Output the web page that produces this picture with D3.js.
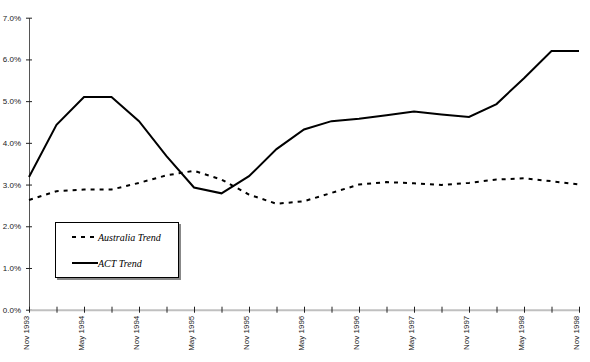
<!DOCTYPE html>
<html>
<head>
<meta charset="utf-8">
<script src="https://cdn.jsdelivr.net/npm/d3@7"></script>
<style>
body{margin:0;background:#fff;}
svg{display:block;}
</style>
</head>
<body>
<script>
var svg_width=590;
var svg_height=362;

// quarterly periods, Nov 1993 .. Nov 1998
var quarters=["Nov 1993","Feb 1994","May 1994","Aug 1994","Nov 1994","Feb 1995","May 1995","Aug 1995",
  "Nov 1995","Feb 1996","May 1996","Aug 1996","Nov 1996","Feb 1997","May 1997","Aug 1997",
  "Nov 1997","Feb 1998","May 1998","Aug 1998","Nov 1998"];
var act_trend=[3.18,4.43,5.1,5.1,4.52,3.68,2.93,2.79,3.2,3.85,4.32,4.52,4.58,4.66,4.75,4.68,4.62,4.93,5.55,6.2,6.2];
var australia_trend=[2.63,2.84,2.88,2.88,3.04,3.22,3.33,3.12,2.76,2.54,2.6,2.8,3.0,3.06,3.03,2.99,3.04,3.12,3.15,3.08,3.0];
var y_ticks=[0,1,2,3,4,5,6,7];
var legend_names=["Australia Trend","ACT Trend"];

var x0=29, x1=579, y0=309.7, y1=17.7;

var svg=d3.select("body")
  .append("svg")
  .attr("width",svg_width)
  .attr("height",svg_height);

var x=d3.scalePoint()
  .domain(quarters)
  .range([x0,x1]);

var y=d3.scaleLinear()
  .domain([0,7])
  .range([y0,y1]);

// y axis
var yAxis=d3.axisLeft(y)
  .tickValues(y_ticks)
  .tickSizeInner(3)
  .tickSizeOuter(0)
  .tickPadding(5)
  .tickFormat(function(d){ return d.toFixed(1)+"%"; });

var gy=svg.append("g")
  .attr("transform","translate("+x0+",0)")
  .call(yAxis);
gy.select(".domain").attr("stroke","#555");
gy.selectAll(".tick line").attr("x1",3).attr("x2",-3).attr("stroke","#222");
gy.selectAll("text")
  .style("font-family","'Liberation Sans', Arial, sans-serif")
  .style("font-size","8px")
  .attr("fill","#222");

// x axis
var xAxis=d3.axisBottom(x)
  .tickSizeInner(3)
  .tickSizeOuter(0)
  .tickFormat(function(d,i){ return i%2==0 ? d : ""; });

var gx=svg.append("g")
  .attr("transform","translate(0,"+y0+")")
  .call(xAxis);
gx.select(".domain").attr("stroke","#c0c0c0").attr("stroke-width",2);
gx.selectAll(".tick line").attr("y1",-3).attr("y2",3).attr("stroke","#222");
gx.selectAll("text")
  .attr("transform","rotate(-90)")
  .attr("x",-6)
  .attr("y",-3)
  .attr("dy","0.32em")
  .style("text-anchor","end")
  .style("font-family","'Liberation Sans', Arial, sans-serif")
  .style("font-size","8px")
  .attr("fill","#222");

var line=d3.line()
  .x(function(d,i){ return x(quarters[i]); })
  .y(function(d){ return y(d); });

svg.append("path")
  .datum(australia_trend)
  .attr("d",line)
  .attr("fill","none")
  .attr("stroke","#000")
  .attr("stroke-width",2)
  .attr("stroke-dasharray","4,5");

svg.append("path")
  .datum(act_trend)
  .attr("d",line)
  .attr("fill","none")
  .attr("stroke","#000")
  .attr("stroke-width",2);

// legend
var lg=svg.append("g");
lg.append("rect")
  .attr("x",57).attr("y",224).attr("width",124).attr("height",56)
  .attr("fill","#888");
lg.append("rect")
  .attr("x",55.5).attr("y",222.5).attr("width",123).attr("height",55)
  .attr("fill","#fff").attr("stroke","#000").attr("stroke-width",1);

lg.selectAll("line.key")
  .data(legend_names)
  .enter()
  .append("line")
  .attr("x1",72).attr("x2",98)
  .attr("y1",function(d,i){ return 237+i*26; })
  .attr("y2",function(d,i){ return 237+i*26; })
  .attr("stroke","#000")
  .attr("stroke-width",2)
  .attr("stroke-dasharray",function(d,i){ return i==0 ? "4,5" : null; });

lg.selectAll("text")
  .data(legend_names)
  .enter()
  .append("text")
  .text(function(d){ return d; })
  .attr("x",98)
  .attr("y",function(d,i){ return 237+i*26; })
  .attr("dy","0.35em")
  .style("font-family","'Liberation Serif', 'Times New Roman', serif")
  .style("font-style","italic")
  .style("font-size","10px");
</script>
</body>
</html>
